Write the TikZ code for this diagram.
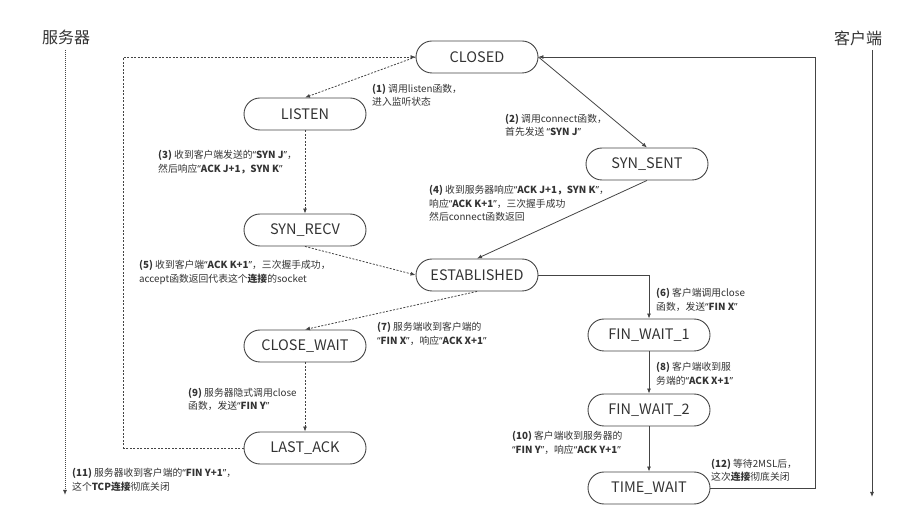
\documentclass[tikz,border=0pt]{standalone}
\usepackage{fontspec}
\setmainfont{Noto Sans CJK SC}
\newfontfamily\qf{Noto Sans}
\usetikzlibrary{shapes.misc,arrows.meta}
\definecolor{ln}{HTML}{444444}
\definecolor{tx}{HTML}{333333}
\newcommand\bq[1]{{\qf“}\textbf{#1}{\qf”}}
\tikzset{
 state/.style={rounded rectangle, draw=ln, line width=0.9pt, minimum width=122pt, minimum height=32pt, inner sep=0pt, font=\fontsize{14.5}{16}\selectfont, text=tx},
 lab/.style={anchor=north west, inner sep=0pt, align=left, font=\fontsize{9.8}{13.5}\selectfont, text=tx},
 side/.style={inner sep=0pt, font=\fontsize{16}{18}\selectfont, text=tx},
 arr/.style={-{Latex[length=5pt,width=4pt]}},
 sline/.style={draw=ln, line width=0.8pt, arr},
 dline/.style={sline, dash pattern=on 2pt off 1.5pt},
 dotline/.style={sline, line width=1pt, dash pattern=on 1pt off 1pt},
}
\begin{document}
\begin{tikzpicture}[x=1pt,y=-1pt]
\useasboundingbox (0,0) rectangle (922,529);
% side labels
\node[side] (srv) at (66,37) {服务器};
\node[side] (cli) at (858,38) {客户端};
\coordinate (s1) at (65,50); \coordinate (s2) at (65,495);
\coordinate (c1) at (872,50); \coordinate (c2) at (872,497);
\draw[dotline] (s1) -- (s2);
\draw[sline] (c1) -- (c2);
% states
\node[state] (closed) at (477,57) {CLOSED};
\node[state] (listen) at (305,114) {LISTEN};
\node[state] (synsent) at (647,164) {SYN\_SENT};
\node[state] (synrecv) at (305,230) {SYN\_RECV};
\node[state] (est) at (477,275) {ESTABLISHED};
\node[state] (closewait) at (305,346) {CLOSE\_WAIT};
\node[state] (fw1) at (649,335) {FIN\_WAIT\_1};
\node[state] (fw2) at (649,410) {FIN\_WAIT\_2};
\node[state] (lastack) at (305,448) {LAST\_ACK};
\node[state] (timewait) at (649,488) {TIME\_WAIT};
% connectors
\draw[dline] (closed.west) -- (listen.north);
\draw[dline] (listen.south) -- (synrecv.north);
\draw[dline] (synrecv.south) -- (est.west);
\draw[dline] (est.south) -- (closewait.north);
\draw[dline] (closewait.south) -- (lastack.north);
\draw[dline] (lastack.west) -- ++(-120,0) |- (closed.west);
\draw[sline] (closed.east) -- (synsent.north);
\draw[sline] (synsent.south) -- (est.north);
\draw[sline] (est.east) -| (fw1.north);
\draw[sline] (fw1.south) -- (fw2.north);
\draw[sline] (fw2.south) -- (timewait.north);
\draw[sline] (timewait.east) -- ++(105,0) |- (closed.east);
% labels
\node[lab] (l1) at (372,84) {\textbf{(1)} 调用listen函数，\\进入监听状态};
\node[lab] (l2) at (505,114) {\textbf{(2)} 调用connect函数，\\首先发送 \bq{SYN J}};
\node[lab] (l3) at (158,150) {\textbf{(3)} 收到客户端发送的\bq{SYN J}，\\然后响应\bq{ACK J+1，SYN K}};
\node[lab] (l4) at (429,185) {\textbf{(4)} 收到服务器响应\bq{ACK J+1，SYN K}，\\响应\bq{ACK K+1}，三次握手成功\\然后connect函数返回};
\node[lab] (l5) at (139,260) {\textbf{(5)} 收到客户端\bq{ACK K+1}，三次握手成功，\\accept函数返回代表这个\textbf{连接}的socket};
\node[lab] (l6) at (656,288) {\textbf{(6)} 客户端调用close\\函数，发送\bq{FIN X}};
\node[lab] (l7) at (377,322) {\textbf{(7)} 服务端收到客户端的\\\bq{FIN X}，响应\bq{ACK X+1}};
\node[lab] (l8) at (656,362) {\textbf{(8)} 客户端收到服\\务端的\bq{ACK X+1}};
\node[lab] (l9) at (188,388) {\textbf{(9)} 服务器隐式调用close\\函数，发送\bq{FIN Y}};
\node[lab] (l10) at (512,431) {\textbf{(10)} 客户端收到服务器的\\\bq{FIN Y}，响应\bq{ACK Y+1}};
\node[lab] (l11) at (72,468) {\textbf{(11)} 服务器收到客户端的\bq{FIN Y+1}，\\这个\textbf{TCP连接}彻底关闭};
\node[lab] (l12) at (711,459) {\textbf{(12)} 等待2MSL后，\\这次\textbf{连接}彻底关闭};
\end{tikzpicture}
\end{document}
